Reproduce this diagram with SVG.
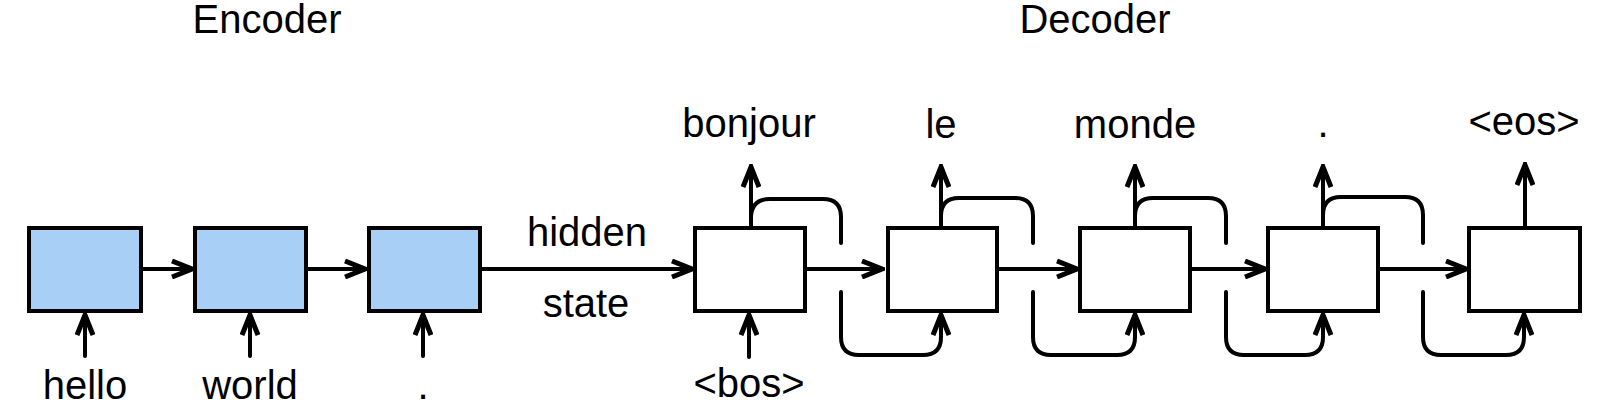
<svg xmlns="http://www.w3.org/2000/svg" width="1603" height="411" viewBox="0 0 1603 411">
<style>
text{font-family:"Liberation Sans",Arial,sans-serif;font-size:40px;fill:#000;text-anchor:middle}
.enc{fill:#a8d0f7;stroke:#000;stroke-width:4}
.dec{fill:#fff;stroke:#000;stroke-width:4}
.ln{fill:none;stroke:#000;stroke-width:4;stroke-linecap:round}
.arr{marker-end:url(#ah)}
</style>
<defs>
<marker id="ah" viewBox="0 0 26 20" refX="24" refY="10" markerWidth="26" markerHeight="20" markerUnits="userSpaceOnUse" orient="auto">
<path d="M3,2 L23,10 L3,18" fill="none" stroke="#000" stroke-width="5" stroke-linejoin="miter" stroke-linecap="butt"/>
</marker>
</defs>
<rect width="1603" height="411" fill="#fff"/>
<text x="267" y="33">Encoder</text>
<text x="1095" y="33">Decoder</text>

<g id="enc1"><rect class="enc" x="29" y="228" width="112" height="83"/><text x="85" y="399">hello</text></g>
<g id="enc2"><rect class="enc" x="195" y="228" width="111" height="83"/><text x="250" y="399">world</text></g>
<g id="enc3"><rect class="enc" x="369" y="228" width="111" height="83"/><text x="423" y="399">.</text></g>

<g id="dec1"><rect class="dec" x="695" y="228" width="110" height="83"/><text x="749" y="137">bonjour</text><text x="749" y="397">&lt;bos&gt;</text></g>
<g id="dec2"><rect class="dec" x="888" y="228" width="109" height="83"/><text x="941" y="138">le</text></g>
<g id="dec3"><rect class="dec" x="1080" y="228" width="110" height="83"/><text x="1135" y="138">monde</text></g>
<g id="dec4"><rect class="dec" x="1268" y="228" width="110" height="83"/><text x="1323" y="137">.</text></g>
<g id="dec5"><rect class="dec" x="1469" y="228" width="111" height="83"/><text x="1524" y="135">&lt;eos&gt;</text></g>

<g id="hidden-label"><text x="587" y="246">hidden</text><text x="586" y="317">state</text></g>

<g id="connectors">
<!-- encoder chain -->
<path class="ln arr" d="M141,269 L193,269"/>
<path class="ln arr" d="M306,269 L366,269"/>
<path class="ln arr" d="M480,269 L693,269"/>
<!-- encoder inputs -->
<path class="ln arr" d="M85,356 L85,314"/>
<path class="ln arr" d="M250,356 L250,314"/>
<path class="ln arr" d="M423,356 L423,314"/>
<!-- decoder chain -->
<path class="ln arr" d="M805,269 L883,269"/>
<path class="ln arr" d="M997,269 L1078,269"/>
<path class="ln arr" d="M1190,269 L1266,269"/>
<path class="ln arr" d="M1378,269 L1467,269"/>
<!-- bos input -->
<path class="ln arr" d="M749,357 L749,314"/>
<!-- outputs -->
<path class="ln arr" d="M751,228 L751,166"/>
<path class="ln arr" d="M941,228 L941,166"/>
<path class="ln arr" d="M1135,228 L1135,166"/>
<path class="ln arr" d="M1323,228 L1323,166"/>
<path class="ln arr" d="M1525,228 L1525,164"/>
<!-- feedback loops top -->
<path class="ln" d="M751,218 Q751,199 770,199 L823,199 Q841,199 841,217 L841,243"/>
<path class="ln" d="M941,216 Q941,198 959,198 L1015,198 Q1033,198 1033,216 L1033,243"/>
<path class="ln" d="M1135,216 Q1135,198 1153,198 L1208,198 Q1226,198 1226,216 L1226,243"/>
<path class="ln" d="M1323,215 Q1323,197 1341,197 L1405,197 Q1423,197 1423,215 L1423,243"/>
<!-- feedback loops bottom -->
<path class="ln arr" d="M841,292 L841,337 Q841,355 859,355 L923,355 Q941,355 941,337 L941,314"/>
<path class="ln arr" d="M1033,292 L1033,337 Q1033,355 1051,355 L1117,355 Q1135,355 1135,337 L1135,314"/>
<path class="ln arr" d="M1226,292 L1226,337 Q1226,355 1244,355 L1305,355 Q1323,355 1323,337 L1323,314"/>
<path class="ln arr" d="M1423,292 L1423,337 Q1423,355 1441,355 L1506,355 Q1524,355 1524,337 L1524,314"/>
</g>
</svg>
